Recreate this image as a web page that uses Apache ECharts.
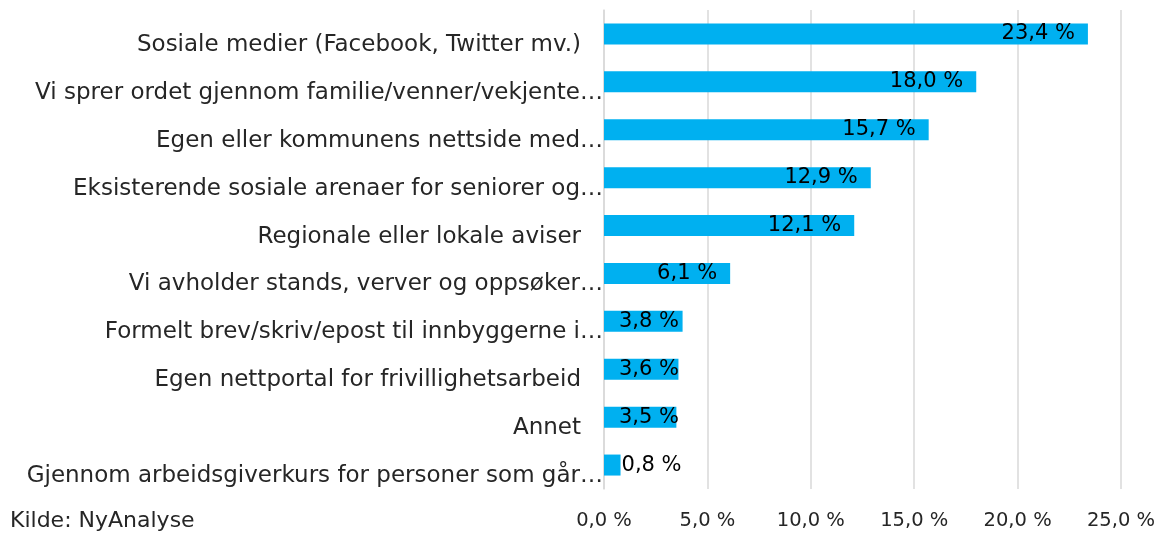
<!DOCTYPE html>
<html><head><meta charset="utf-8">
<script src="https://cdn.jsdelivr.net/npm/echarts@6/dist/echarts.min.js"></script>
<style>html,body{margin:0;padding:0;background:#fff}#c{width:1161px;height:534px}</style>
</head><body><div id="c"></div>
<script>
const categories = [
  "Sosiale medier (Facebook, Twitter mv.)",
  "Vi sprer ordet gjennom familie/venner/vekjente…",
  "Egen eller kommunens nettside med…",
  "Eksisterende sosiale arenaer for seniorer og…",
  "Regionale eller lokale aviser",
  "Vi avholder stands, verver og oppsøker…",
  "Formelt brev/skriv/epost til innbyggerne i…",
  "Egen nettportal for frivillighetsarbeid",
  "Annet",
  "Gjennom arbeidsgiverkurs for personer som går…"
];
const values = [23.4, 18.0, 15.7, 12.9, 12.1, 6.1, 3.8, 3.6, 3.5, 0.8];
const xTicks = [0, 5, 10, 15, 20, 25];
const source = "Kilde: NyAnalyse";

const FONT = "'DejaVu Sans', sans-serif";
const fmt = v => v.toFixed(1).replace('.', ',') + ' %';

const data = values.map(v => {
  const item = { value: v };
  if (v < 1) item.label = { position: 'right', distance: 1 };
  else if (v < 5) item.label = { position: 'insideLeft', distance: 15 };
  return item;
});

const chart = echarts.init(document.getElementById('c'), null, { renderer: 'canvas' });
chart.setOption({
  animation: false,
  backgroundColor: '#fff',
  grid: { left: 604, right: 40, top: 10, bottom: 45, containLabel: false },
  graphic: [{
    type: 'text', left: 10, top: 510,
    style: { text: source, font: "22px " + FONT, fill: '#262626' }
  }],
  xAxis: {
    type: 'value', min: xTicks[0], max: xTicks[xTicks.length - 1], interval: 5,
    axisLine: { show: false }, axisTick: { show: false },
    splitLine: { show: true, lineStyle: { color: '#d9d9d9', width: 1.5 } },
    axisLabel: { formatter: v => fmt(v), fontFamily: FONT, fontSize: 19.5, color: '#262626', margin: 22 }
  },
  yAxis: {
    type: 'category', data: categories, inverse: true,
    axisLine: { show: true, lineStyle: { color: '#d9d9d9', width: 1.5 } },
    axisTick: { show: false },
    axisLabel: {
      margin: 1,
      formatter: s => (s.endsWith('…') ? '{b|' + s + '}' : '{a|' + s + '}'),
      rich: {
        a: { fontFamily: FONT, fontSize: 23, color: '#262626', padding: [22, 22, 0, 0] },
        b: { fontFamily: FONT, fontSize: 23, color: '#262626', padding: [22, 0, 0, 0] }
      }
    }
  },
  series: [{
    type: 'bar', data: data, barWidth: 21,
    itemStyle: { color: '#00B0F0' },
    label: {
      show: true, position: 'insideRight', distance: 13,
      formatter: p => fmt(p.value), fontFamily: FONT, fontSize: 21, color: '#000'
    }
  }]
});
</script></body></html>
